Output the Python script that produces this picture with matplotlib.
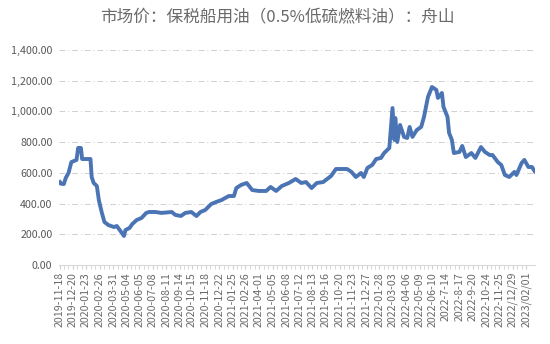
import matplotlib
matplotlib.use("Agg")
import matplotlib.pyplot as plt
import matplotlib.dates as mdates
from matplotlib.ticker import FuncFormatter, FixedLocator
import pandas as pd

plt.rcParams['font.family'] = ['Noto Sans CJK SC', 'DejaVu Sans']

title = "市场价：保税船用油（0.5%低硫燃料油）：舟山"

dates = [
    "2019-11-18", "2019-11-20", "2019-11-28", "2019-12-03", "2019-12-10", "2019-12-17",
    "2019-12-30", "2020-01-03", "2020-01-10", "2020-01-13", "2020-02-03", "2020-02-06",
    "2020-02-11", "2020-02-19", "2020-02-24", "2020-03-02", "2020-03-09", "2020-03-19",
    "2020-04-02", "2020-04-09", "2020-04-20", "2020-04-27", "2020-05-01", "2020-05-11",
    "2020-05-18", "2020-05-29", "2020-06-10", "2020-06-22", "2020-06-29", "2020-07-15",
    "2020-07-30", "2020-08-25", "2020-09-03", "2020-09-17", "2020-09-28", "2020-10-13",
    "2020-10-26", "2020-11-05", "2020-11-17", "2020-12-02", "2020-12-14", "2020-12-28",
    "2021-01-15", "2021-01-28", "2021-02-03", "2021-02-15", "2021-03-01", "2021-03-15",
    "2021-03-31", "2021-04-19", "2021-04-30", "2021-05-14", "2021-05-28", "2021-06-15",
    "2021-07-02", "2021-07-16", "2021-07-28", "2021-08-11", "2021-08-24", "2021-09-09",
    "2021-09-29", "2021-10-11", "2021-10-26", "2021-11-08", "2021-11-19", "2021-11-30",
    "2021-12-13", "2021-12-20", "2021-12-29", "2022-01-10", "2022-01-20", "2022-02-01",
    "2022-02-09", "2022-02-22", "2022-03-02", "2022-03-07", "2022-03-09", "2022-03-14",
    "2022-03-21", "2022-03-31", "2022-04-08", "2022-04-14", "2022-04-21", "2022-05-02",
    "2022-05-13", "2022-05-20", "2022-05-30", "2022-06-09", "2022-06-20", "2022-06-24",
    "2022-07-04", "2022-07-08", "2022-07-18", "2022-07-22", "2022-07-29", "2022-08-03",
    "2022-08-17", "2022-08-24", "2022-09-02", "2022-09-16", "2022-09-26", "2022-10-10",
    "2022-10-20", "2022-11-01", "2022-11-08", "2022-11-21", "2022-11-30", "2022-12-09",
    "2022-12-20", "2023-01-02", "2023-01-07", "2023-01-20", "2023-01-27", "2023-02-06",
    "2023-02-15", "2023-02-22",
]
prices = [
    540, 530, 527, 567, 600, 670,
    684, 762, 762, 690, 690, 573,
    534, 514, 423, 345, 280, 260,
    247, 254, 215, 189, 228, 241,
    267, 293, 306, 339, 345, 345,
    339, 345, 326, 319, 339, 345,
    319, 345, 358, 397, 410, 423,
    449, 449, 501, 521, 534, 488,
    482, 482, 508, 482, 514, 534,
    560, 534, 540, 501, 534, 540,
    580, 625, 625, 625, 606, 573,
    599, 573, 632, 651, 690, 697,
    729, 762, 1022, 814, 957, 801,
    912, 834, 827, 899, 834, 879,
    899, 964, 1094, 1159, 1140, 1088,
    1120, 1029, 964, 860, 814, 729,
    736, 775, 703, 729, 697, 768,
    736, 716, 716, 671, 651, 586,
    573, 606, 586, 664, 684, 638,
    638, 610,
]

tick_dates = [
    "2019-11-18", "2019-12-20", "2020-01-23", "2020-02-26", "2020-03-31", "2020-05-04",
    "2020-06-05", "2020-07-08", "2020-08-11", "2020-09-14", "2020-10-15", "2020-11-18",
    "2020-12-22", "2021-01-25", "2021-02-26", "2021-04-01", "2021-05-05", "2021-06-08",
    "2021-07-12", "2021-08-13", "2021-09-16", "2021-10-20", "2021-11-23", "2021-12-27",
    "2022-01-28", "2022-03-03", "2022-04-06", "2022-05-09", "2022-06-10", "2022-07-14",
    "2022-08-17", "2022-09-20", "2022-10-24", "2022-11-25", "2022-12-29", "2023-02-01",
]
tick_labels = [
    "2019-11-18", "2019-12-20", "2020-01-23", "2020-02-26", "2020-03-31", "2020-05-04",
    "2020-06-05", "2020-07-08", "2020-08-11", "2020-09-14", "2020-10-15", "2020-11-18",
    "2020-12-22", "2021-01-25", "2021-02-26", "2021-04-01", "2021-05-05", "2021-06-08",
    "2021-07-12", "2021-08-13", "2021-09-16", "2021-10-20", "2021-11-23", "2021-12-27",
    "2022-01-28", "2022-03-03", "2022-04-06", "2022-05-09", "2022-06-10", "2022-7-14",
    "2022-8-17", "2022-9-20", "2022-10-24", "2022-11-25", "2022/12/29", "2023/02/01",
]
y_ticks = [0, 200, 400, 600, 800, 1000, 1200, 1400]

x = pd.to_datetime(dates)
tx = mdates.date2num(pd.to_datetime(tick_dates))

fig = plt.figure(figsize=(5.5, 3.44), dpi=100)
ax = fig.add_axes([0.108, 0.2297, 0.865, 0.625])

ax.plot(x, prices, color="#4a74b4", linewidth=2.8, solid_joinstyle="round")

ax.set_ylim(0, 1400)
ax.set_yticks(y_ticks)
ax.yaxis.set_major_formatter(FuncFormatter(lambda v, p: f"{v:,.2f}"))
ax.set_xlim(mdates.date2num(pd.Timestamp("2019-11-17")), mdates.date2num(pd.Timestamp("2023-02-23")))
ax.xaxis.set_major_locator(FixedLocator(tx))
ax.set_xticklabels(tick_labels, rotation=90, fontsize=7.7, color="#6a6a6a")
minor = []
for a, b in zip(tx[:-1], tx[1:]):
    minor += [a + (b - a) * k / 3 for k in (1, 2)]
ax.xaxis.set_minor_locator(FixedLocator(minor))

ax.grid(axis="y", color="#d0d0d0", linestyle=(0, (6, 3, 1, 3)), linewidth=0.7)
for s in ("left", "right", "top"):
    ax.spines[s].set_visible(False)
ax.spines["bottom"].set_color("#d9d9d9")
ax.tick_params(axis="y", length=0, labelsize=7.7, labelcolor="#595959", pad=5)
ax.tick_params(axis="x", which="both", length=3, color="#d0d0d0", pad=2)

fig.text(0.505, 0.948, title, ha="center", va="center", fontsize=12, color="#6a6a6a")

fig.savefig("out.png", dpi=100, facecolor="white")
